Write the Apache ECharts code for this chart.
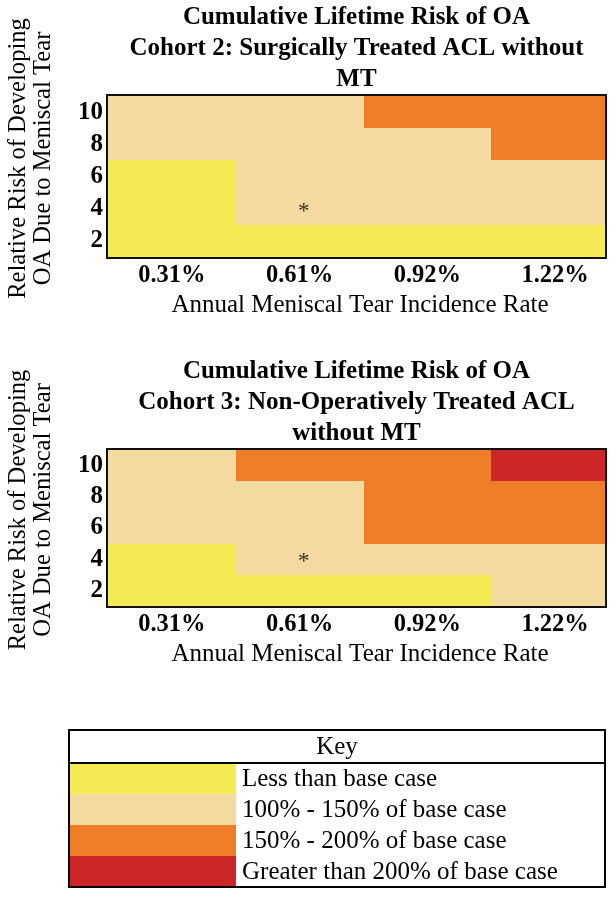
<!DOCTYPE html>
<html>
<head>
<meta charset="utf-8">
<script src="https://cdn.jsdelivr.net/npm/echarts@6/dist/echarts.min.js"></script>
<style>
  html, body { margin: 0; padding: 0; background: #fff; }
  #main { width: 616px; height: 898px; }
</style>
</head>
<body>
<div id="main"></div>
<script>
// annual meniscal tear incidence rate (x) and relative risk of OA due to MT (y)
const rates = ["0.31%", "0.61%", "0.92%", "1.22%"]
const relRisk = ["2", "4", "6", "8", "10"]

// risk class of each cell, rows from RR 2 up to RR 10
// 0 = less than base, 1 = 100-150%, 2 = 150-200%, 3 = >200%
const cohort2 = [
  [0, 0, 0, 0],
  [0, 1, 1, 1],
  [0, 1, 1, 1],
  [1, 1, 1, 2],
  [1, 1, 2, 2],
]
const cohort3 = [
  [0, 0, 0, 1],
  [0, 1, 1, 1],
  [1, 1, 2, 2],
  [1, 1, 2, 2],
  [1, 2, 2, 3],
]
// base case cell (rate index, rr index)
const baseCase = [1, 1]

const keyLabels = [
  "Less than base case",
  "100% - 150% of base case",
  "150% - 200% of base case",
  "Greater than 200% of base case",
]
const keyColors = ["#f4ea54", "#f3daa0", "#ee7d27", "#cd2629"]

const serif = "Liberation Serif"

function cells(matrix) {
  const out = []
  matrix.forEach((row, yi) => {
    row.forEach((v, xi) => out.push([xi, yi, v]))
  })
  return out
}

// the last rate column is cut off on the right in the original figure
function renderCell(params, api) {
  const x = api.value(0)
  const y = api.value(1)
  const p0 = api.coord([x - 0.5, y])
  const size = api.size([1, 1])
  const cs = params.coordSys
  // snap to whole pixels so neighbouring cells meet without seams
  const x0 = Math.round(p0[0]), x1 = Math.round(p0[0] + size[0])
  const y0 = Math.round(p0[1] - size[1] / 2), y1 = Math.round(p0[1] + size[1] / 2)
  const rect = echarts.graphic.clipRectByRect(
    { x: x0, y: y0, width: x1 - x0, height: y1 - y0 },
    { x: cs.x, y: cs.y, width: cs.width, height: cs.height }
  )
  if (!rect) return
  return { type: "rect", shape: rect, style: { fill: keyColors[api.value(2)] } }
}

function xAxisFor(gi) {
  return {
    type: "value",
    gridIndex: gi,
    min: -0.5,
    max: 3.39,
    axisLine: { show: false },
    axisTick: { show: false },
    splitLine: { show: false },
    axisLabel: {
      customValues: [0, 1, 2, 3],
      formatter: (v) => rates[Math.round(v)],
      color: "#000", fontFamily: serif, fontWeight: "bold", fontSize: 24.5, margin: 6,
    },
    name: "Annual Meniscal Tear Incidence Rate",
    nameLocation: "middle",
    nameGap: 36,
    nameTextStyle: { color: "#000", fontFamily: serif, fontSize: 25, padding: [0, 0, 0, 7] },
  }
}

function yAxisFor(gi) {
  return {
    type: "category",
    gridIndex: gi,
    data: relRisk,
    axisLine: { show: false },
    axisTick: { show: false },
    splitLine: { show: false },
    axisLabel: { interval: 0, color: "#000", fontFamily: serif, fontWeight: "bold", fontSize: 25, margin: 5 },
    name: "Relative Risk of Developing\nOA Due to Meniscal Tear",
    nameLocation: "middle",
    nameRotate: 90,
    nameGap: 52,
    nameTextStyle: { color: "#000", fontFamily: serif, fontSize: 24.6, lineHeight: 25, padding: [0, 0, 0, 36] },
  }
}

const titleStyle = { color: "#000", fontFamily: serif, fontWeight: "bold", fontSize: 25, lineHeight: 31 }

// key table drawn as a small graphic group
const keyLeft = 69, keyTop = 730, keyW = 536, headH = 33, rowH = 31, swW = 167
const keyH = headH + rowH * keyLabels.length
const keyGraphic = [
  {
    type: "rect",
    shape: { x: keyLeft, y: keyTop, width: keyW, height: keyH },
    style: { fill: "#fff" },
    z: 1,
  },
  {
    type: "text",
    x: keyLeft + keyW / 2,
    y: keyTop + headH / 2 + 1,
    style: { text: "Key", fill: "#000", font: "25px " + serif, textAlign: "center", textVerticalAlign: "middle" },
    z: 3,
  },
]
keyLabels.forEach((lab, i) => {
  keyGraphic.push({
    type: "rect",
    shape: { x: keyLeft, y: keyTop + headH + rowH * i, width: swW, height: rowH },
    style: { fill: keyColors[i] },
    z: 2,
  })
  keyGraphic.push({
    type: "text",
    x: keyLeft + swW + 6,
    y: keyTop + headH + rowH * i + rowH / 2 + 1,
    style: { text: lab, fill: "#000", font: "25px " + serif, textVerticalAlign: "middle" },
    z: 3,
  })
})
keyGraphic.push({
  type: "line",
  shape: { x1: keyLeft, y1: keyTop + headH, x2: keyLeft + keyW, y2: keyTop + headH },
  style: { stroke: "#000", lineWidth: 2 },
  z: 4,
})
keyGraphic.push({
  type: "rect",
  shape: { x: keyLeft, y: keyTop, width: keyW, height: keyH },
  style: { fill: null, stroke: "#000", lineWidth: 2 },
  z: 5,
})

const gridBase = { show: true, borderColor: "#111", borderWidth: 4, backgroundColor: "transparent", containLabel: false, outerBoundsMode: "none" }

const chart = echarts.init(document.getElementById("main"))
chart.setOption({
  backgroundColor: "#fff",
  animation: false,
  title: [
    {
      text: "Cumulative Lifetime Risk of OA\nCohort 2: Surgically Treated ACL without\nMT",
      left: 356.5, top: 2.5, padding: 0, textAlign: "center", textStyle: titleStyle,
    },
    {
      text: "Cumulative Lifetime Risk of OA\nCohort 3: Non-Operatively Treated ACL\nwithout MT",
      left: 356.5, top: 356.5, padding: 0, textAlign: "center", textStyle: titleStyle,
    },
  ],
  grid: [
    Object.assign({ left: 108, top: 96, width: 497, height: 161 }, gridBase),
    Object.assign({ left: 108, top: 450, width: 497, height: 156 }, gridBase),
  ],
  xAxis: [xAxisFor(0), xAxisFor(1)],
  yAxis: [yAxisFor(0), yAxisFor(1)],
  series: [
    { type: "custom", xAxisIndex: 0, yAxisIndex: 0, data: cells(cohort2), renderItem: renderCell, silent: true },
    { type: "custom", xAxisIndex: 1, yAxisIndex: 1, data: cells(cohort3), renderItem: renderCell, silent: true },
    // base case marker
    ...[0, 1].map((gi) => ({
      type: "scatter",
      xAxisIndex: gi,
      yAxisIndex: gi,
      data: [baseCase],
      symbolSize: 0.1,
      itemStyle: { color: "transparent" },
      silent: true,
      z: 5,
      label: {
        show: true, position: "inside", formatter: "*", offset: [4, 3],
        color: "#000", fontFamily: serif, fontSize: 23,
      },
    })),
  ],
  graphic: keyGraphic,
})
window.addEventListener("resize", () => chart.resize())
</script>
</body>
</html>
